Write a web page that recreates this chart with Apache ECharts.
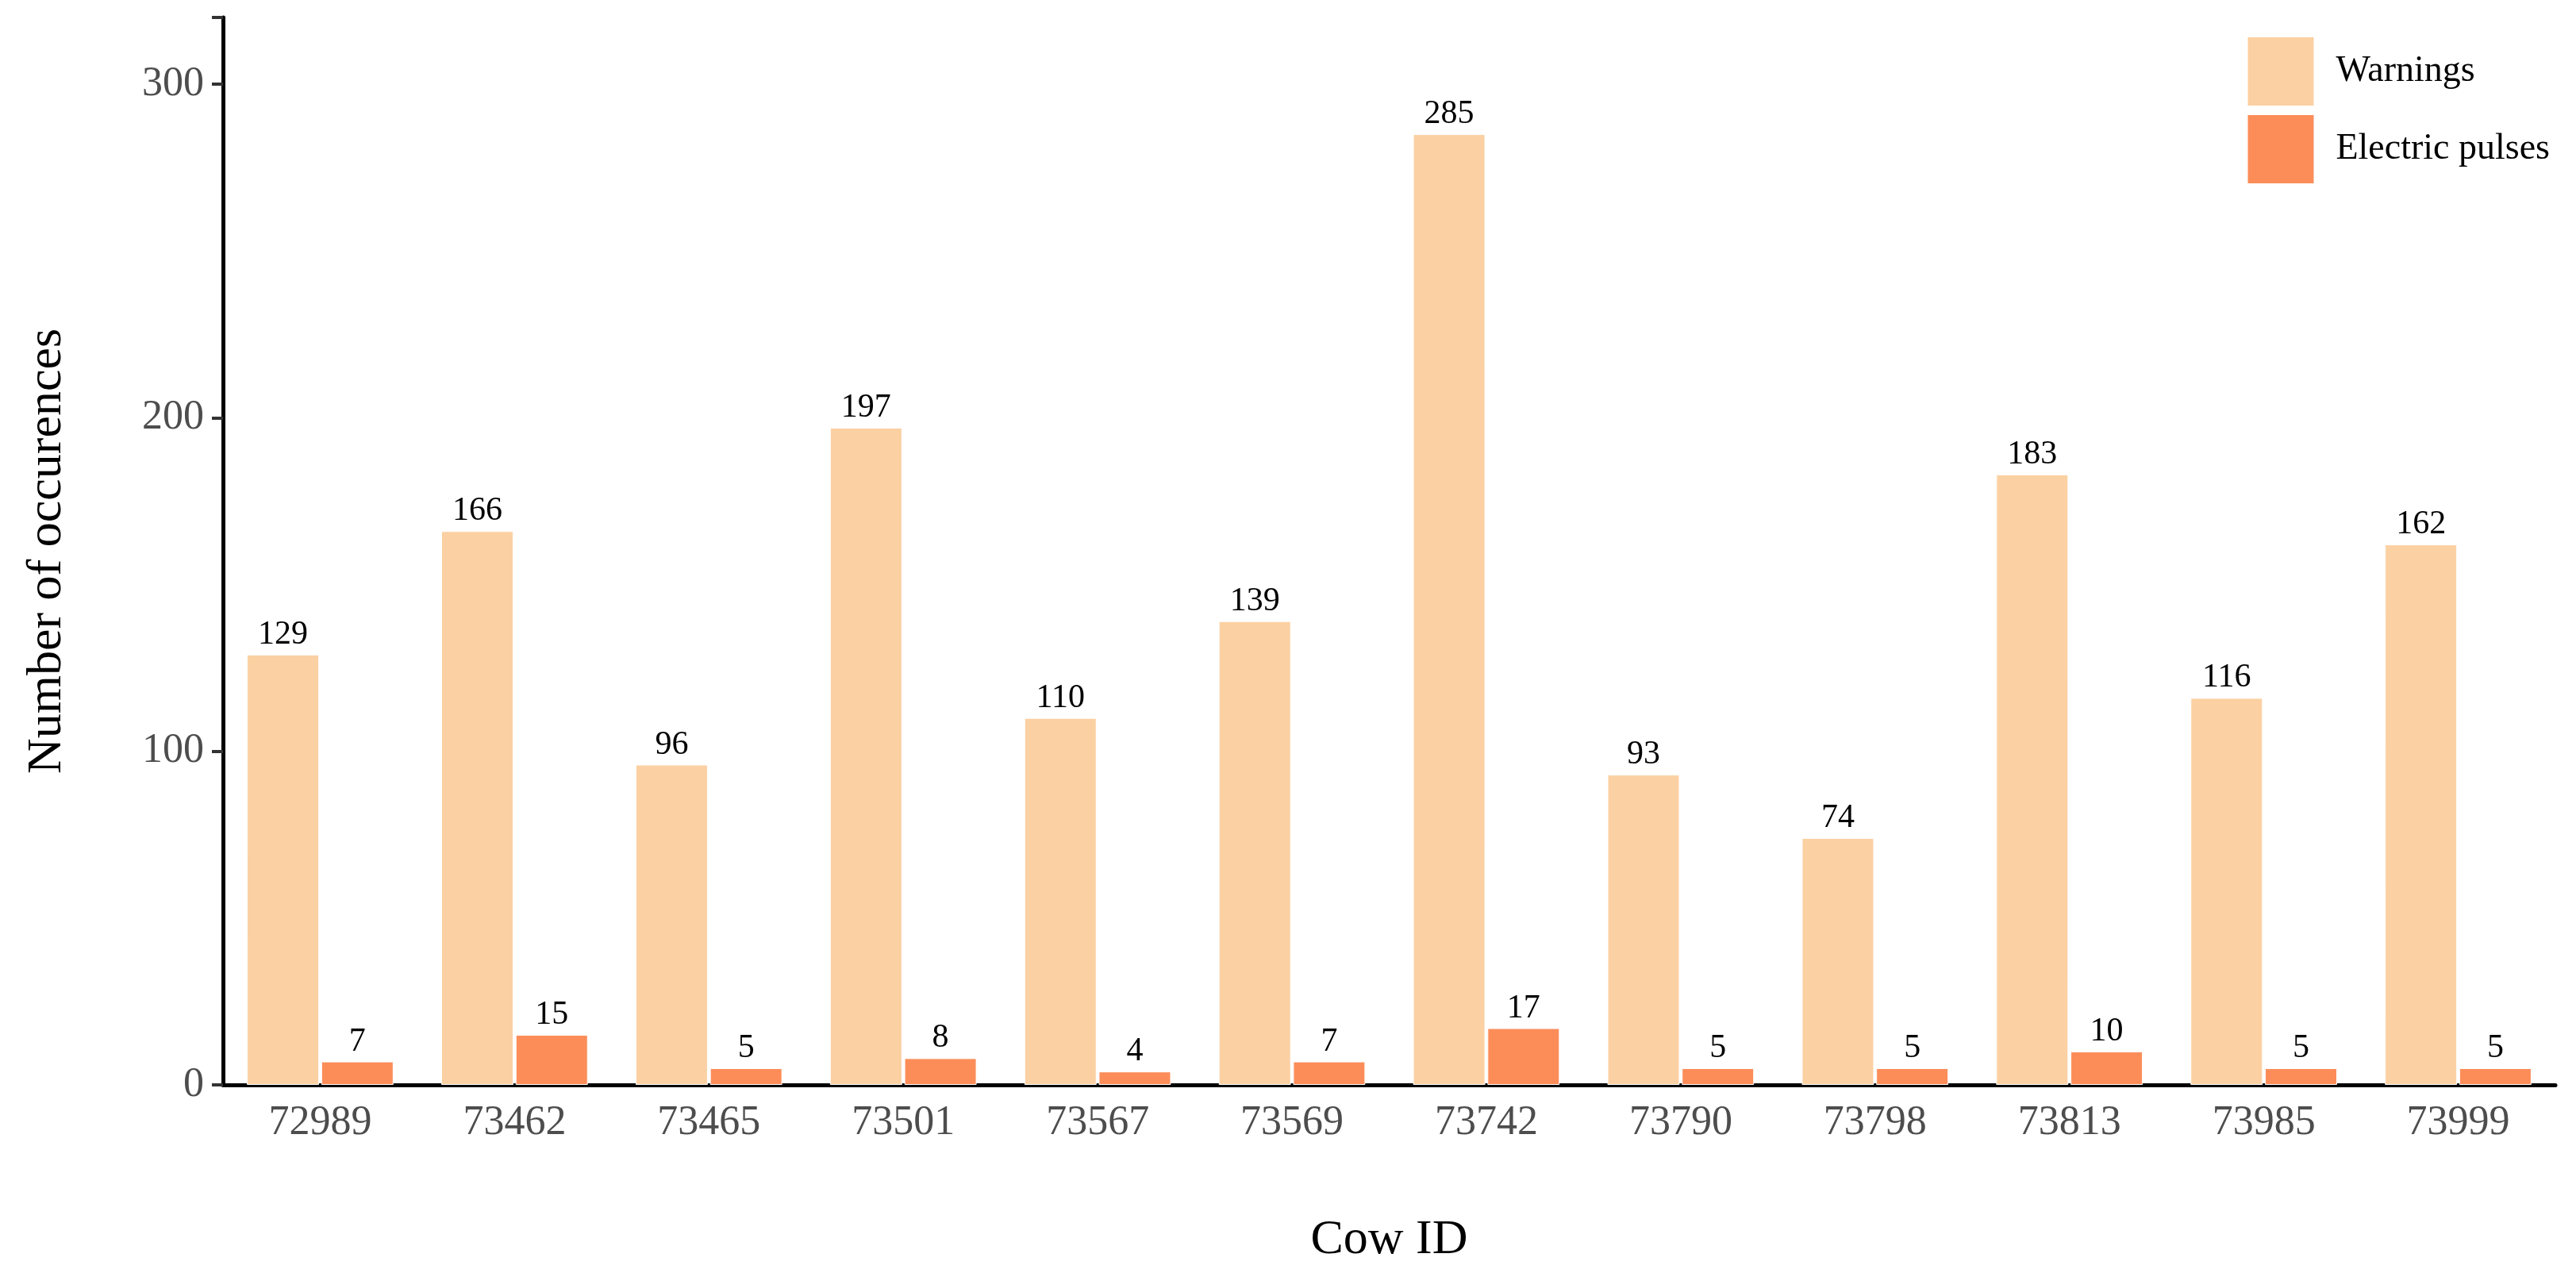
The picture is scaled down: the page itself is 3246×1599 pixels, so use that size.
<!DOCTYPE html>
<html lang="en">
<head>
<meta charset="UTF-8">
<script src="https://cdn.jsdelivr.net/npm/echarts@6/dist/echarts.min.js"></script>
<title>Warnings and electric pulses per cow</title>
</head>
<body style="margin:0">
<div id="main" style="width:3246px;height:1599px;"></div>
<script>
const cowIds = ['72989','73462','73465','73501','73567','73569','73742','73790','73798','73813','73985','73999'];
const warnings = [129,166,96,197,110,139,285,93,74,183,116,162];
const pulses = [7,15,5,8,4,7,17,5,5,10,5,5];
const yTicks = [0,100,200,300];

const font = 'Liberation Serif';
let chart = echarts.init(document.getElementById('main'));
chart.setOption({
    textStyle: { fontFamily: font },
    animation: false,
    legend: {
        right: 28, top: 40, orient: 'vertical',
        itemWidth: 85, itemHeight: 88, itemGap: 8,
        icon: 'rect',
        textStyle: { fontFamily: font, fontSize: 46, color: '#000', padding: [0, 0, 0, 22] },
        data: ['Warnings', 'Electric pulses']
    },
    grid: { left: 281, right: 26, top: 22, bottom: 224 },
    xAxis: {
        type: 'category', data: cowIds,
        name: 'Cow ID', nameLocation: 'middle', nameGap: 165,
        nameTextStyle: { fontFamily: font, fontSize: 62, color: '#000' },
        axisLine: { lineStyle: { color: '#000', width: 5 } },
        axisTick: { alignWithLabel: true, length: 14, lineStyle: { color: '#333', width: 4 } },
        axisLabel: { fontFamily: font, fontSize: 52, color: '#4d4d4d', margin: 22 }
    },
    yAxis: {
        type: 'value', min: 0, max: 320, interval: 100,
        name: 'Number of occurences', nameLocation: 'middle', nameGap: 190,
        nameTextStyle: { fontFamily: font, fontSize: 62, color: '#000' },
        splitLine: { show: false },
        axisLine: { show: true, lineStyle: { color: '#000', width: 5 } },
        axisTick: { show: true, length: 14, lineStyle: { color: '#333', width: 4 } },
        axisLabel: { fontFamily: font, fontSize: 52, color: '#4d4d4d', margin: 24,
            formatter: v => yTicks.includes(v) ? String(v) : '' }
    },
    series: [
        { name: 'Warnings', type: 'bar', data: warnings, barWidth: 91, barGap: '3%',
          itemStyle: { color: '#fbd0a2', borderColor: '#fff', borderWidth: 1 },
          label: { show: true, position: 'top', distance: 4, fontFamily: font, fontSize: 42, color: '#000' } },
        { name: 'Electric pulses', type: 'bar', data: pulses, barWidth: 91,
          itemStyle: { color: '#fc8d59', borderColor: '#fff', borderWidth: 1 },
          label: { show: true, position: 'top', distance: 4, fontFamily: font, fontSize: 42, color: '#000' } }
    ]
});
</script>
</body>
</html>
